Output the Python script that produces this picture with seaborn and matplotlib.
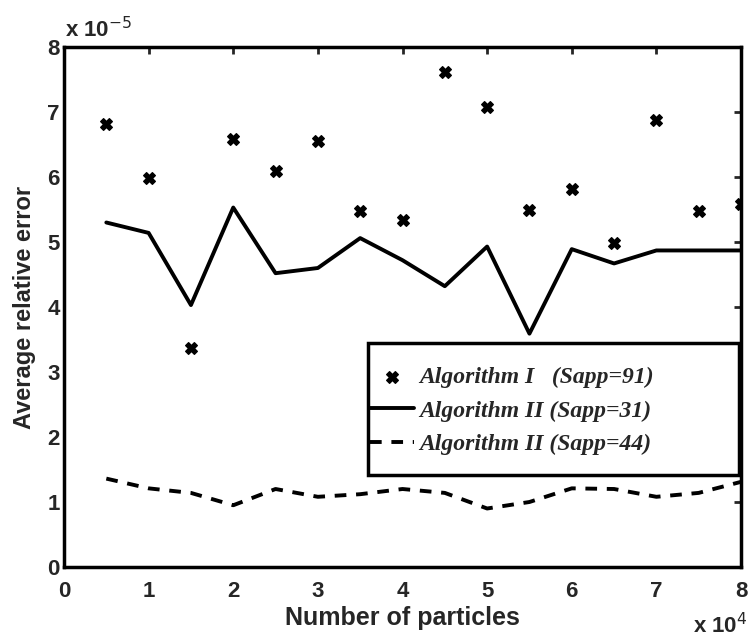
import numpy as np
import pandas as pd
import matplotlib
matplotlib.use("Agg")
import matplotlib.pyplot as plt
from matplotlib.font_manager import FontProperties
from matplotlib.patches import Rectangle
import seaborn as sns

# number of particles
particles = [5000, 10000, 15000, 20000, 25000, 30000, 35000, 40000,
             45000, 50000, 55000, 60000, 65000, 70000, 75000, 80000]

# average relative error (x 1e-5)
alg1_sapp91 = [6.81, 5.98, 3.37, 6.58, 6.10, 6.56, 5.47, 5.34,
               7.61, 7.07, 5.49, 5.81, 4.98, 6.87, 5.47, 5.58]
alg2_sapp31 = [5.30, 5.14, 4.03, 5.53, 4.52, 4.60, 5.06, 4.72,
               4.32, 4.93, 3.59, 4.89, 4.67, 4.87, 4.87, 4.87]
alg2_sapp44 = [1.36, 1.21, 1.14, 0.95, 1.20, 1.08, 1.12, 1.20,
               1.14, 0.90, 1.00, 1.21, 1.20, 1.08, 1.14, 1.31]

labels = ["Algorithm I   (Sapp=91)", "Algorithm II (Sapp=31)", "Algorithm II (Sapp=44)"]

df = pd.DataFrame({
    "x": np.array(particles) / 1e4,
    "a1": alg1_sapp91,
    "a2": alg2_sapp31,
    "a3": alg2_sapp44,
})

sns.set_style("white")
plt.rcParams["font.family"] = ["Liberation Sans", "DejaVu Sans"]

fig = plt.figure(figsize=(7.51, 6.39), dpi=100)
ax = fig.add_axes([64 / 751, 1 - 567 / 639, 677 / 751, 520 / 639])

sns.scatterplot(data=df, x="x", y="a1", ax=ax, marker="X", s=70, color="black",
                edgecolor="black", linewidth=1, label=labels[0], zorder=3)
sns.lineplot(data=df, x="x", y="a2", ax=ax, color="black", linewidth=2.8, label=labels[1])
sns.lineplot(data=df, x="x", y="a3", ax=ax, color="black", linewidth=2.8,
             linestyle=(0, (3, 2.5)), label=labels[2])

ax.set_xlim(0, 8)
ax.set_ylim(0, 8)
ax.set_xticks(range(9))
ax.set_yticks(range(9))
ax.tick_params(direction="in", length=5, width=2, top=True, right=True, labelsize=16)
ax.tick_params(axis="x", pad=10)
ax.tick_params(axis="y", pad=3)
for lbl in ax.get_xticklabels() + ax.get_yticklabels():
    lbl.set_fontweight("bold")
for sp in ax.spines.values():
    sp.set_linewidth(2.5)
    sp.set_color("black")

ax.set_xlabel("Number of particles", fontsize=18, fontweight="bold", va="center")
ax.set_ylabel("Average relative error", fontsize=17, fontweight="bold", va="center")
ax.xaxis.set_label_coords(0.5, -0.098)
ax.yaxis.set_label_coords(-0.058, 0.5)

ax.text(0.001, 1.01, r"x 10$^{-5}$", transform=ax.transAxes, fontsize=16,
        fontweight="bold", ha="left", va="bottom")
ax.text(1.009, -0.112, r"x 10$^{4}$", transform=ax.transAxes, fontsize=16,
        fontweight="bold", ha="right", va="center")

# legend: frame drawn as a rectangle so the handles can sit close to its left edge
ax.add_patch(Rectangle((0.449, 0.177), 0.548, 0.254, transform=ax.transAxes,
                       facecolor="white", edgecolor="black", linewidth=2.5, zorder=4))
leg_font = FontProperties(family="Liberation Serif", style="italic", weight="bold", size=17)
leg = ax.legend(loc="upper left", bbox_to_anchor=(0.452, 0.385), frameon=False,
                handlelength=1.85, handletextpad=0.25, borderpad=0,
                labelspacing=0.5, borderaxespad=0, prop=leg_font)
leg.set_zorder(5)

fig.savefig("out.png", dpi=100)
